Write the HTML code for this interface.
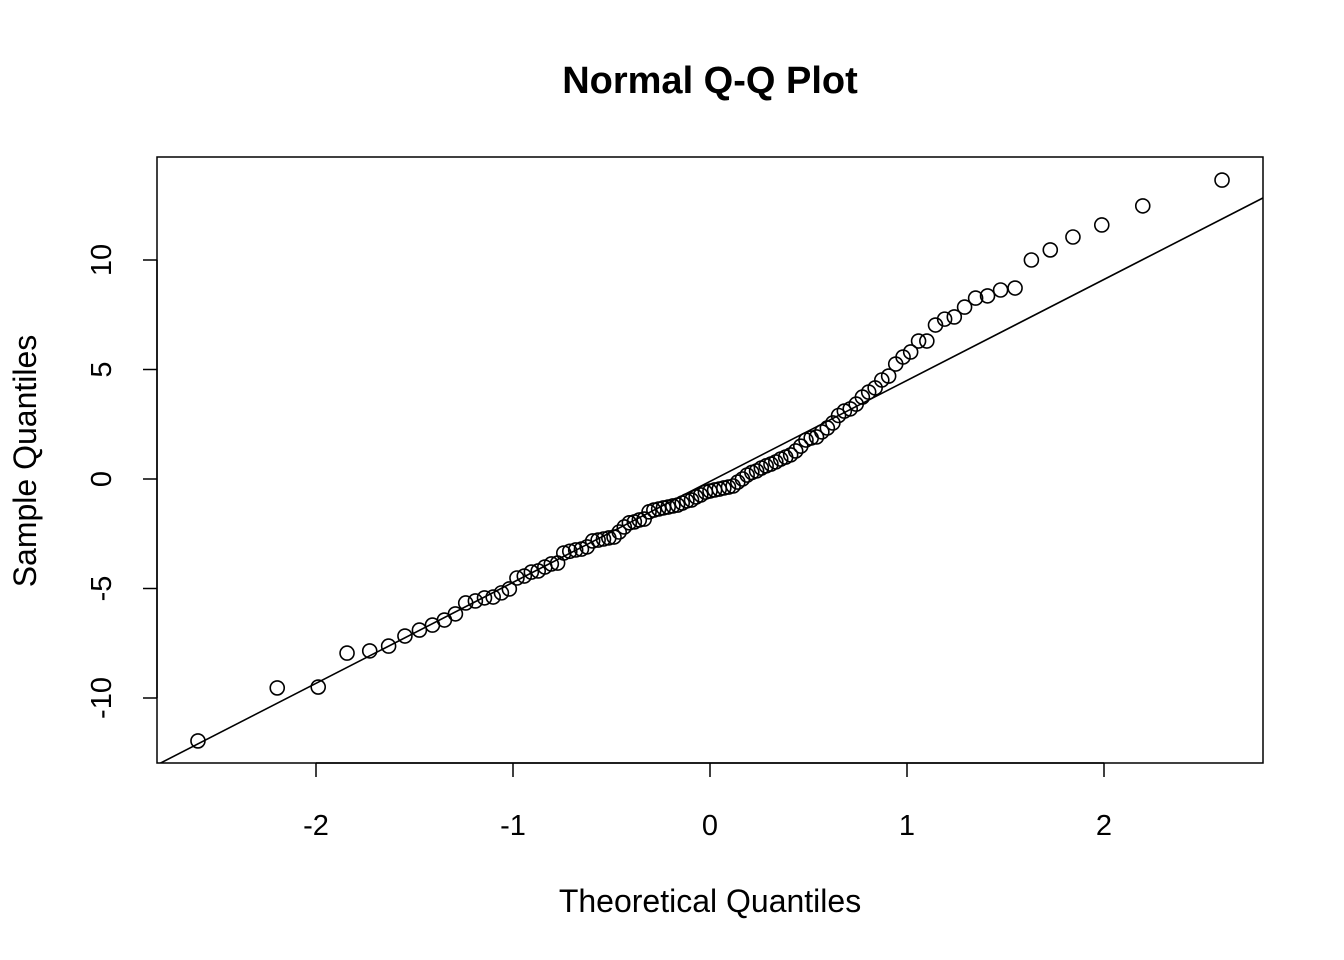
<!DOCTYPE html>
<html><head><meta charset="utf-8"><style>
html,body{margin:0;padding:0;background:#fff;}
svg{display:block;font-family:"Liberation Sans",Arial,sans-serif;}
</style></head><body>
<svg id="chart" width="1344" height="960" viewBox="0 0 1344 960">
<text x="710" y="93" text-anchor="middle" font-size="38" font-weight="bold">Normal Q-Q Plot</text>
<text x="710" y="912" text-anchor="middle" font-size="32">Theoretical Quantiles</text>
<text transform="translate(36,461) rotate(-90)" text-anchor="middle" font-size="32">Sample Quantiles</text>
<rect x="157" y="157" width="1106" height="606" fill="none" stroke="#000" stroke-width="1.5"/>
<g id="xaxis"></g>
<g id="yaxis"></g>
<defs><clipPath id="clip"><rect x="157" y="157" width="1106" height="606"/></clipPath></defs>
<g id="lineg" clip-path="url(#clip)"></g>
<g id="pts"></g>
</svg>
<script>
const sampleValues = [-11.96,-9.54,-9.5,-7.95,-7.85,-7.63,-7.17,-6.9,-6.67,-6.44,
-6.16,-5.66,-5.57,-5.43,-5.39,-5.2,-5.02,-4.52,-4.43,-4.25,
-4.2,-4.02,-3.88,-3.84,-3.38,-3.3,-3.24,-3.2,-3.1,-2.83,-2.79,
-2.74,-2.69,-2.65,-2.42,-2.19,-2.0,-1.96,-1.87,-1.83,-1.5,-1.42,
-1.37,-1.32,-1.28,-1.23,-1.19,-1.1,-1.0,-0.96,-0.82,-0.73,-0.6,-0.55,
-0.5,-0.46,-0.41,-0.37,-0.32,-0.14,0,0.18,0.3,0.37,0.5,
0.6,0.68,0.78,0.91,1.0,1.1,1.28,1.5,1.78,1.87,1.92,
2.15,2.33,2.56,2.9,3.1,3.2,3.42,3.74,3.97,4.16,
4.52,4.7,5.25,5.57,5.8,6.3,6.3,7.03,7.3,7.4,7.85,8.26,8.36,8.63,8.72,10.0,10.46,11.05,11.6,12.47,13.65];
const xTicks = [-2,-1,0,1,2];
const xTickLabels = ["-2","-1","0","1","2"];
const yTicks = [-10,-5,0,5,10];
const yTickLabels = ["-10","-5","0","5","10"];

const NS="http://www.w3.org/2000/svg";
function sx(v){return 710+197*v;}
function sy(v){return 479-21.9*v;}
function qnorm(p){
  const a=[-39.69683028665376,220.9460984245205,-275.9285104469687,138.3577518672690,-30.66479806614716,2.506628277459239];
  const b=[-54.47609879822406,161.5858368580409,-155.6989798598866,66.80131188771972,-13.28068155288572];
  const c=[-0.007784894002430293,-0.3223964580411365,-2.400758277161838,-2.549732539343734,4.374664141464968,2.938163982698783];
  const d=[0.007784695709041462,0.3224671290700398,2.445134137142996,3.754408661907416];
  const pl=0.02425;let q,r;
  if(p<pl){q=Math.sqrt(-2*Math.log(p));return (((((c[0]*q+c[1])*q+c[2])*q+c[3])*q+c[4])*q+c[5])/((((d[0]*q+d[1])*q+d[2])*q+d[3])*q+1);}
  if(p>1-pl){q=Math.sqrt(-2*Math.log(1-p));return -(((((c[0]*q+c[1])*q+c[2])*q+c[3])*q+c[4])*q+c[5])/((((d[0]*q+d[1])*q+d[2])*q+d[3])*q+1);}
  q=p-0.5;r=q*q;return (((((a[0]*r+a[1])*r+a[2])*r+a[3])*r+a[4])*r+a[5])*q/(((((b[0]*r+b[1])*r+b[2])*r+b[3])*r+b[4])*r+1);
}
function mk(tag,attrs,parent){const e=document.createElementNS(NS,tag);for(const k in attrs)e.setAttribute(k,attrs[k]);parent.appendChild(e);return e;}

const xa=document.getElementById('xaxis');
mk('line',{x1:sx(xTicks[0]),x2:sx(xTicks[xTicks.length-1]),y1:763,y2:763,stroke:'#000','stroke-width':1.5},xa);
xTicks.forEach((t,i)=>{
  const l=mk('line',{x1:sx(t),x2:sx(t),y1:763,y2:777,stroke:'#000','stroke-width':1.5},xa);
  
  
  const tx=mk('text',{x:sx(t),y:835,'text-anchor':'middle','font-size':29},xa);
  tx.textContent=xTickLabels[i];
  
  
});
const ya=document.getElementById('yaxis');
mk('line',{x1:157,x2:157,y1:sy(yTicks[0]),y2:sy(yTicks[yTicks.length-1]),stroke:'#000','stroke-width':1.5},ya);
yTicks.forEach((t,i)=>{
  const l=mk('line',{x1:143,x2:157,y1:sy(t),y2:sy(t),stroke:'#000','stroke-width':1.5},ya);
  
  
  const tx=mk('text',{transform:`translate(111,${sy(t)}) rotate(-90)`,'text-anchor':'middle','font-size':29},ya);
  tx.textContent=yTickLabels[i];
  
  
});

const n=sampleValues.length;
const sorted=sampleValues.slice().sort((a,b)=>a-b);
const a0=n<=10?3/8:0.5;
const theo=sorted.map((v,i)=>qnorm((i+1-a0)/(n+1-2*a0)));
const pg=document.getElementById('pts');
sorted.forEach((v,i)=>{
  const c=mk('circle',{cx:sx(theo[i]),cy:sy(v),r:7,fill:'none',stroke:'#000','stroke-width':1.6},pg);
  
  
});
function quant(p){const h=(n-1)*p;const lo=Math.floor(h);const hi=Math.min(lo+1,n-1);return sorted[lo]+(h-lo)*(sorted[hi]-sorted[lo]);}
const y1=quant(0.25),y2=quant(0.75),x1=qnorm(0.25),x2=qnorm(0.75);
const slope=(y2-y1)/(x2-x1),inter=y1-slope*x1;
const xl=-3,xr=3;
const ln=mk('line',{x1:sx(xl),y1:sy(inter+slope*xl),x2:sx(xr),y2:sy(inter+slope*xr),stroke:'#000','stroke-width':1.6},document.getElementById('lineg'));


</script>
</body></html>
